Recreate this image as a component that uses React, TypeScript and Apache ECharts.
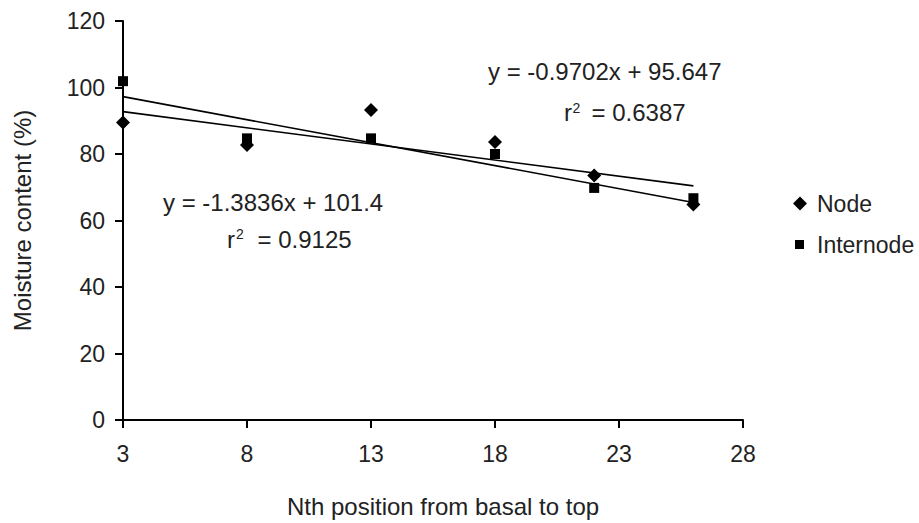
import React, { useEffect, useRef } from "react";
import * as echarts from "echarts";

// Data
const positions = [3, 8, 13, 18, 22, 26];
const nodeValues = [89.5, 82.7, 93.2, 83.6, 73.5, 64.8];
const internodeValues = [101.9, 84.7, 84.7, 80.0, 69.8, 66.7];
// Linear trend lines (end points, from the shown equations)
const nodeTrend = [
  [3, 92.74],
  [26, 70.42],
];
const internodeTrend = [
  [3, 97.25],
  [26, 65.43],
];
const xMin = 3;
const xMax = 28;
const xStep = 5;
const yMin = 0;
const yMax = 120;
const yStep = 20;
const nodeEq = "y = -0.9702x + 95.647";
const nodeR2 = "= 0.6387";
const internodeEq = "y = -1.3836x + 101.4";
const internodeR2 = "= 0.9125";
const xTitle = "Nth position from basal to top";
const yTitle = "Moisture content (%)";

const FONT = "'Liberation Sans', Arial, sans-serif";
const TEXT = "#222";

export default function App() {
  const ref = useRef<HTMLDivElement>(null);
  useEffect(() => {
    if (!ref.current) return;
    const chart = echarts.init(ref.current, undefined, { renderer: "svg" });
    const txt = (x: number, y: number, text: string, size = 24) => ({
      type: "text",
      x,
      y,
      silent: true,
      style: {
        text,
        fill: TEXT,
        fontSize: size,
        fontFamily: FONT,
        align: "left",
        verticalAlign: "middle",
        textAlign: "left",
        textVerticalAlign: "middle",
      },
    });
    chart.setOption({
      animation: false,
      backgroundColor: "#fff",
      textStyle: { fontFamily: FONT },
      grid: { left: 123, right: 176, top: 21, bottom: 100, containLabel: false },
      legend: [
        {
          data: [{ name: "Node", icon: "diamond" }],
          left: 788,
          top: 187,
          itemWidth: 14,
          itemHeight: 14,
          selectedMode: false,
          textStyle: { fontSize: 23, color: TEXT, fontFamily: FONT, padding: [0, 0, 0, 5] },
        },
        {
          data: [{ name: "Internode", icon: "rect" }],
          left: 790,
          top: 228,
          itemWidth: 9,
          itemHeight: 9,
          selectedMode: false,
          textStyle: { fontSize: 23, color: TEXT, fontFamily: FONT, padding: [0, 0, 0, 8] },
        },
      ],
      xAxis: {
        type: "value",
        min: xMin,
        max: xMax,
        interval: xStep,
        name: xTitle,
        nameLocation: "middle",
        nameGap: 74,
        nameTextStyle: { fontSize: 24, color: TEXT, fontFamily: FONT, padding: [0, 0, 0, 20] },
        splitLine: { show: false },
        axisLine: { lineStyle: { color: "#000", width: 2 } },
        axisTick: { show: true, inside: false, length: 8, lineStyle: { color: "#000", width: 2 } },
        axisLabel: { fontSize: 23, color: TEXT, fontFamily: FONT, margin: 22 },
      },
      yAxis: {
        type: "value",
        min: yMin,
        max: yMax,
        interval: yStep,
        name: yTitle,
        nameLocation: "middle",
        nameGap: 89,
        nameTextStyle: { fontSize: 24, color: TEXT, fontFamily: FONT },
        splitLine: { show: false },
        axisLine: { show: true, lineStyle: { color: "#000", width: 2 } },
        axisTick: { show: true, inside: false, length: 8, lineStyle: { color: "#000", width: 2 } },
        axisLabel: { fontSize: 23, color: TEXT, fontFamily: FONT, margin: 18 },
      },
      series: [
        {
          name: "Node",
          type: "scatter",
          symbol: "diamond",
          symbolSize: 14,
          itemStyle: { color: "#000", opacity: 1 },
          data: positions.map((p, i) => [p, nodeValues[i]]),
          z: 3,
        },
        {
          name: "Internode",
          type: "scatter",
          symbol: "rect",
          symbolSize: 10,
          itemStyle: { color: "#000", opacity: 1 },
          data: positions.map((p, i) => [p, internodeValues[i]]),
          z: 3,
        },
        {
          name: "Node trend",
          type: "line",
          showSymbol: false,
          symbol: "none",
          lineStyle: { color: "#000", width: 1.6 },
          data: nodeTrend,
          z: 2,
        },
        {
          name: "Internode trend",
          type: "line",
          showSymbol: false,
          symbol: "none",
          lineStyle: { color: "#000", width: 1.6 },
          data: internodeTrend,
          z: 2,
        },
      ],
      graphic: [
        txt(488, 71.5, nodeEq),
        txt(564, 112, "r"),
        txt(572.5, 107.5, "2", 14),
        txt(591.5, 112, nodeR2),
        txt(163, 202.5, internodeEq),
        txt(227, 239.5, "r"),
        txt(236, 234, "2", 14),
        txt(257.5, 239.5, internodeR2),
      ],
    });
    return () => chart.dispose();
  }, []);
  return (
    <div
      ref={ref}
      style={{ position: "fixed", left: 0, top: 0, width: 919, height: 523, background: "#fff" }}
    />
  );
}
